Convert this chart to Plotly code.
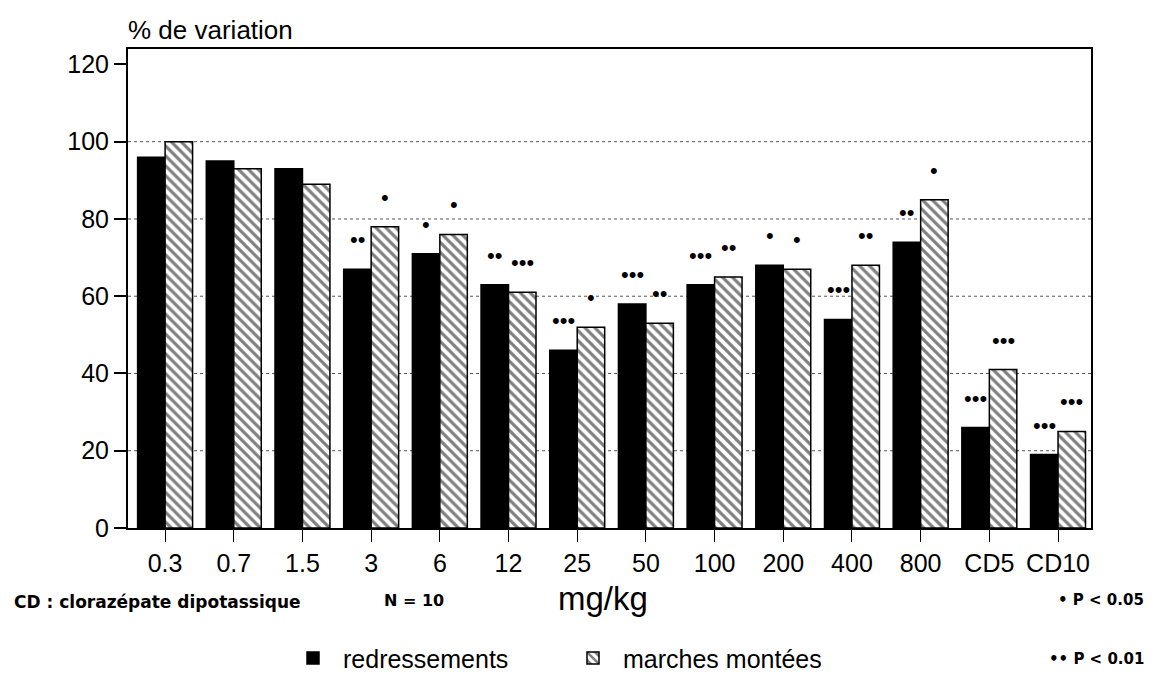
import plotly.graph_objects as go

categories = ["0.3", "0.7", "1.5", "3", "6", "12", "25", "50", "100", "200", "400", "800", "CD5", "CD10"]
redressements = [96, 95, 93, 67, 71, 63, 46, 58, 63, 68, 54, 74, 26, 19]
marches_montees = [100, 93, 89, 78, 76, 61, 52, 53, 65, 67, 68, 85, 41, 25]
sig_redressements = ["", "", "", "••", "•", "••", "•••", "•••", "•••", "•", "•••", "••", "•••", "•••"]
sig_marches = ["", "", "", "•", "•", "•••", "•", "••", "••", "•", "••", "•", "•••", "•••"]
y_ticks = [0, 20, 40, 60, 80, 100, 120]
grid_values = [20, 40, 60, 80, 100]

xpos = list(range(len(categories)))
BARGAP = 0.2
half = (1 - BARGAP) / 4

FONT = "Liberation Sans, Arial, sans-serif"

fig = go.Figure()
fig.add_trace(go.Bar(
    x=xpos, y=redressements, name="redressements",
    marker=dict(color="black", line=dict(color="black", width=1.5)),
))
fig.add_trace(go.Bar(
    x=xpos, y=marches_montees, name="marches montées",
    marker=dict(color="white", line=dict(color="black", width=1.5),
                pattern=dict(shape="\\", fgcolor="black", bgcolor="white", size=7, solidity=0.45)),
))

annotations = []
for i, (s1, s2) in enumerate(zip(sig_redressements, sig_marches)):
    if s1:
        annotations.append(dict(x=i - half, y=redressements[i], text=s1, showarrow=False,
                                yanchor="bottom", yshift=15, font=dict(size=22, color="black", family=FONT)))
    if s2:
        annotations.append(dict(x=i + half, y=marches_montees[i], text=s2, showarrow=False,
                                yanchor="bottom", yshift=15, font=dict(size=22, color="black", family=FONT)))

plot_w = 1157 - 120 - 74
plot_h = 530 - 41

def px(xp):
    return (xp - 120) / plot_w

def py(yp):
    return (530 - yp) / plot_h

annotations += [
    dict(xref="paper", yref="paper", x=px(118), y=py(22), text="% de variation", showarrow=False,
         xanchor="left", yanchor="middle", font=dict(size=26, color="black", family=FONT)),
    dict(xref="paper", yref="paper", x=px(595), y=py(602), text="mg/kg", showarrow=False,
         xanchor="center", yanchor="middle", font=dict(size=33, color="black", family=FONT)),
    dict(xref="paper", yref="paper", x=px(4), y=py(606), text="<b>CD : clorazépate dipotassique</b>", showarrow=False,
         xanchor="left", yanchor="middle", font=dict(size=17, color="black", family="DejaVu Sans")),
    dict(xref="paper", yref="paper", x=px(374), y=py(604), text="<b>N = 10</b>", showarrow=False,
         xanchor="left", yanchor="middle", font=dict(size=16, color="black", family="DejaVu Sans")),
    dict(xref="paper", yref="paper", x=px(1138), y=py(604), text="<b>• P < 0.05</b>", showarrow=False,
         xanchor="right", yanchor="middle", font=dict(size=15, color="black", family="DejaVu Sans")),
    dict(xref="paper", yref="paper", x=px(1138), y=py(664), text="<b>•• P < 0.01</b>", showarrow=False,
         xanchor="right", yanchor="middle", font=dict(size=15, color="black", family="DejaVu Sans")),
]

shapes = [dict(type="line", xref="paper", yref="y", x0=0, x1=1, y0=g, y1=g,
               line=dict(color="#555555", width=1, dash="dot"), layer="below") for g in grid_values]

fig.update_layout(
    width=1157, height=685,
    margin=dict(l=120, r=74, t=41, b=155),
    paper_bgcolor="white", plot_bgcolor="white",
    barmode="group", bargap=BARGAP, bargroupgap=0,
    font=dict(family=FONT, color="black"),
    showlegend=True,
    legend=dict(orientation="h", x=px(275), y=py(663), xanchor="left", yanchor="middle",
                font=dict(size=25, family=FONT, color="black"), entrywidth=215, itemwidth=50,
                bgcolor="rgba(0,0,0,0)"),
    annotations=annotations,
    shapes=shapes,
    xaxis=dict(
        tickmode="array", tickvals=xpos, ticktext=categories,
        range=[-0.54, 13.48], showline=True, linecolor="black", linewidth=2, mirror=True,
        ticks="outside", ticklen=12, tickcolor="black", tickwidth=1,
        tickfont=dict(size=25, family=FONT, color="black"), showgrid=False, zeroline=False,
    ),
    yaxis=dict(
        tickmode="array", tickvals=y_ticks, range=[0, 124],
        showline=True, linecolor="black", linewidth=2, mirror=True,
        ticks="outside", ticklen=12, tickcolor="black", tickwidth=1.5,
        tickfont=dict(size=25, family=FONT, color="black"),
        showgrid=False, zeroline=False,
    ),
)

fig.write_html("out.html")
